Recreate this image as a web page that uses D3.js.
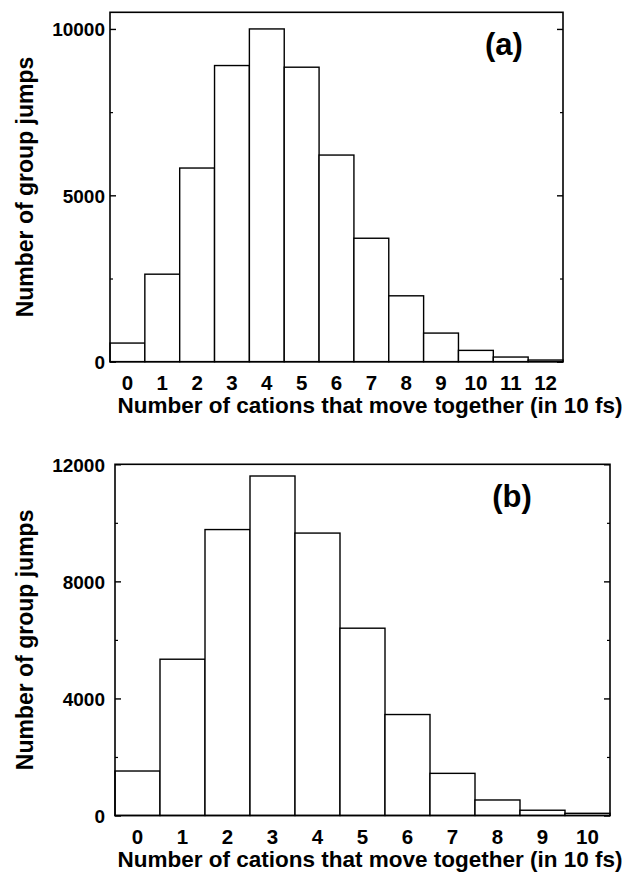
<!DOCTYPE html>
<html><head><meta charset="utf-8">
<script src="https://cdn.jsdelivr.net/npm/d3@7"></script>
<style>
html,body{margin:0;padding:0;background:#fff;}
svg text{font-family:"Liberation Sans",Arial,Helvetica,sans-serif;font-weight:bold;fill:#000;}
</style></head>
<body>
<svg id="chart" width="627" height="876"></svg>
<script>
// Panel (a)
const catsA = ["0","1","2","3","4","5","6","7","8","9","10","11","12"];
const valsA = [560, 2630, 5820, 8900, 10000, 8850, 6210, 3710, 1980, 860, 340, 140, 50];
const majorTicksA = [0, 5000, 10000];
const minorTicksA = [2500, 7500];
// Panel (b)
const catsB = ["0","1","2","3","4","5","6","7","8","9","10"];
const valsB = [1520, 5340, 9770, 11600, 9650, 6400, 3450, 1440, 530, 180, 75];
const majorTicksB = [0, 4000, 8000, 12000];
const minorTicksB = [2000, 6000, 10000];

const yTitle = "Number of group jumps";
const xTitle = "Number of cations that move together (in 10 fs)";

const svg = d3.select("#chart");

function panel(opts) {
  const {cats, vals, major, minor, yMax, left, right, top, bottom, pad, label, labelX, labelY} = opts;
  const g = svg.append("g");
  const x = d3.scaleBand().domain(cats).range([left, right]).paddingInner(0).paddingOuter(0);
  const y = d3.scaleLinear().domain([0, yMax]).range([bottom, top]);

  // bars
  g.selectAll("rect.bar").data(cats).enter().append("rect")
    .attr("class","bar")
    .attr("x", d => x(d))
    .attr("width", x.bandwidth())
    .attr("y", (d,i) => y(vals[i]))
    .attr("height", (d,i) => bottom - y(vals[i]))
    .attr("fill","#fff").attr("stroke","#000").attr("stroke-width",1.4);

  // left axis major
  const la = g.append("g").attr("transform",`translate(${left},0)`)
    .call(d3.axisLeft(y).tickValues(major).tickSize(-6).tickPadding(pad).tickFormat(d3.format("d")));
  la.select(".domain").remove();
  la.selectAll("line").attr("stroke","#000").attr("stroke-width",1.4);
  la.selectAll("text").style("font-size","19px").attr("dy","0.36em");
  const lm = g.append("g").attr("transform",`translate(${left},0)`)
    .call(d3.axisLeft(y).tickValues(minor).tickSize(-3).tickFormat(""));
  lm.select(".domain").remove();
  lm.selectAll("line").attr("stroke","#000").attr("stroke-width",1.2);

  // right axis ticks
  const ra = g.append("g").attr("transform",`translate(${right},0)`)
    .call(d3.axisRight(y).tickValues(major).tickSize(-6).tickFormat(""));
  ra.select(".domain").remove();
  ra.selectAll("line").attr("stroke","#000").attr("stroke-width",1.4);
  const rm = g.append("g").attr("transform",`translate(${right},0)`)
    .call(d3.axisRight(y).tickValues(minor).tickSize(-3).tickFormat(""));
  rm.select(".domain").remove();
  rm.selectAll("line").attr("stroke","#000").attr("stroke-width",1.2);

  // bottom axis labels
  const ba = g.append("g").attr("transform",`translate(0,${bottom})`)
    .call(d3.axisBottom(x).tickSize(0).tickPadding(14));
  ba.select(".domain").remove();
  ba.selectAll("text").style("font-size","20.5px");

  // frame
  g.append("rect").attr("x",left).attr("y",top).attr("width",right-left).attr("height",bottom-top)
    .attr("fill","none").attr("stroke","#000").attr("stroke-width",1.6);

  // titles
  g.append("text").attr("x",370).attr("y",bottom+51)
    .attr("text-anchor","middle").style("font-size","22.5px").text(xTitle);
  g.append("text").attr("transform",`translate(33,${(top+bottom)/2}) rotate(-90)`)
    .attr("text-anchor","middle").style("font-size","23px").text(yTitle);
  g.append("text").attr("x",labelX).attr("y",labelY).attr("text-anchor","middle")
    .style("font-size","31px").text(label);
}

panel({cats:catsA, vals:valsA, major:majorTicksA, minor:minorTicksA, yMax:10500,
  left:110, right:563, top:12.3, bottom:361.7, pad:5, label:"(a)", labelX:504, labelY:55});
panel({cats:catsB, vals:valsB, major:majorTicksB, minor:minorTicksB, yMax:12000,
  left:115, right:610, top:464.3, bottom:815.5, pad:10, label:"(b)", labelX:512, labelY:507});
</script>
</body></html>
